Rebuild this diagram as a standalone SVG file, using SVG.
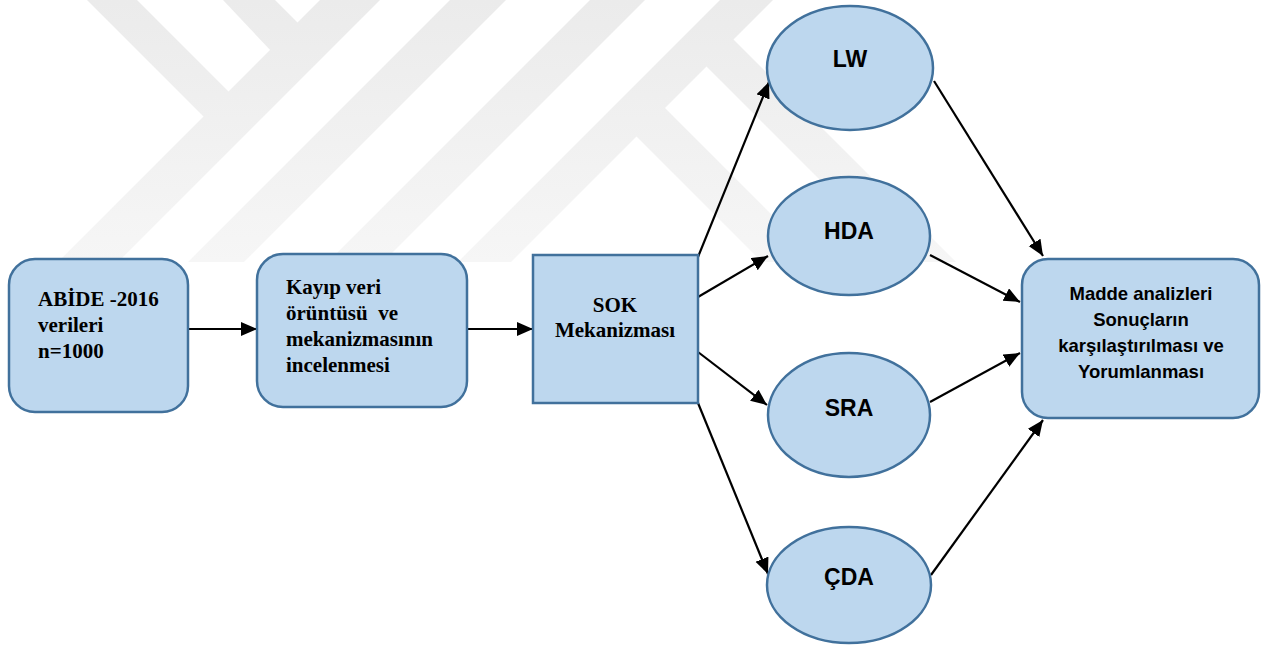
<svg xmlns="http://www.w3.org/2000/svg" width="1265" height="650" viewBox="0 0 1265 650">
  <style>
    .box { fill: #bdd7ee; stroke: #41719c; stroke-width: 2.5; }
    .serif { font-family: "Liberation Serif", "Times New Roman", serif; font-weight: bold; font-size: 21px; fill: #000; }
    .sans { font-family: "Liberation Sans", Arial, sans-serif; font-weight: bold; fill: #000; }
    .conn { stroke: #000; stroke-width: 2.2; fill: none; marker-end: url(#arrow); }
    .wm { fill: url(#wmgrad); }
  </style>
  <defs>
    <marker id="arrow" markerUnits="userSpaceOnUse" markerWidth="17" markerHeight="15" refX="16" refY="7" orient="auto">
      <path d="M0,0 L16,7 L0,14 z" fill="#000"/>
    </marker>
    <linearGradient id="wmgrad" gradientUnits="userSpaceOnUse" x1="0" y1="0" x2="0" y2="262">
      <stop offset="0" stop-color="#ebebeb"/>
      <stop offset="1" stop-color="#f6f6f6"/>
    </linearGradient>
  </defs>
  <rect width="1265" height="650" fill="#ffffff"/>

  <g id="watermark">
    <polygon class="wm" points="320,0 380,0 118,262 58,262"/>
    <polygon class="wm" points="223,0 275,0 300,25 272,52"/>
    <polygon class="wm" points="87,0 137,0 230,93 205,118"/>
    <polygon class="wm" points="450,0 506,0 244,262 188,262"/>
    <polygon class="wm" points="590,0 645,0 383,262 328,262"/>
    <polygon class="wm" points="720,0 773,0 511,262 458,262"/>
    <polygon class="wm" points="730,36 956,262 902,262 700,60"/>
    <polygon class="wm" points="662,105 819,262 762,262 630,130"/>
  </g>

  <g id="connectors">
    <line class="conn" x1="188" y1="329" x2="257" y2="329"/>
    <line class="conn" x1="467" y1="329" x2="533" y2="329"/>
    <line class="conn" x1="698" y1="257" x2="769" y2="82"/>
    <line class="conn" x1="698" y1="297" x2="768" y2="256"/>
    <line class="conn" x1="698" y1="352" x2="767" y2="405"/>
    <line class="conn" x1="698" y1="403" x2="768" y2="574"/>
    <line class="conn" x1="934" y1="81" x2="1043" y2="256"/>
    <line class="conn" x1="930" y1="255" x2="1020" y2="302"/>
    <line class="conn" x1="930" y1="402" x2="1020" y2="353"/>
    <line class="conn" x1="931" y1="575" x2="1043" y2="420"/>
  </g>

  <g id="node-abide">
    <rect class="box" x="9" y="259" width="179" height="153" rx="26" ry="26"/>
    <text class="serif" x="38" y="306">ABİDE -2016</text>
    <text class="serif" x="38" y="332">verileri</text>
    <text class="serif" x="38" y="358">n=1000</text>
  </g>

  <g id="node-kayip">
    <rect class="box" x="257" y="254" width="210" height="153" rx="26" ry="26"/>
    <text class="serif" x="286" y="294">Kayıp veri</text>
    <text class="serif" x="286" y="320" xml:space="preserve">örüntüsü  ve</text>
    <text class="serif" x="286" y="346">mekanizmasının</text>
    <text class="serif" x="286" y="372">incelenmesi</text>
  </g>

  <g id="node-sok">
    <rect class="box" x="533" y="255" width="165" height="148"/>
    <text class="serif" x="615" y="312" text-anchor="middle">SOK</text>
    <text class="serif" x="615" y="337" text-anchor="middle">Mekanizması</text>
  </g>

  <g id="node-lw">
    <ellipse class="box" cx="850" cy="68" rx="83" ry="62"/>
    <text class="sans" x="850" y="67" font-size="23" text-anchor="middle">LW</text>
  </g>

  <g id="node-hda">
    <ellipse class="box" cx="849" cy="236" rx="81" ry="59"/>
    <text class="sans" x="849" y="239" font-size="23" text-anchor="middle">HDA</text>
  </g>

  <g id="node-sra">
    <ellipse class="box" cx="849" cy="415" rx="81" ry="62"/>
    <text class="sans" x="849" y="416" font-size="23" text-anchor="middle">SRA</text>
  </g>

  <g id="node-cda">
    <ellipse class="box" cx="849" cy="585" rx="82" ry="58"/>
    <text class="sans" x="849" y="585" font-size="23" text-anchor="middle">ÇDA</text>
  </g>

  <g id="node-madde">
    <rect class="box" x="1022" y="259" width="237" height="159" rx="26" ry="26"/>
    <text class="sans" x="1141" y="300" font-size="18.5" text-anchor="middle">Madde analizleri</text>
    <text class="sans" x="1141" y="326" font-size="18.5" text-anchor="middle">Sonuçların</text>
    <text class="sans" x="1141" y="352" font-size="18.5" text-anchor="middle">karşılaştırılması ve</text>
    <text class="sans" x="1141" y="378" font-size="18.5" text-anchor="middle">Yorumlanması</text>
  </g>
</svg>
